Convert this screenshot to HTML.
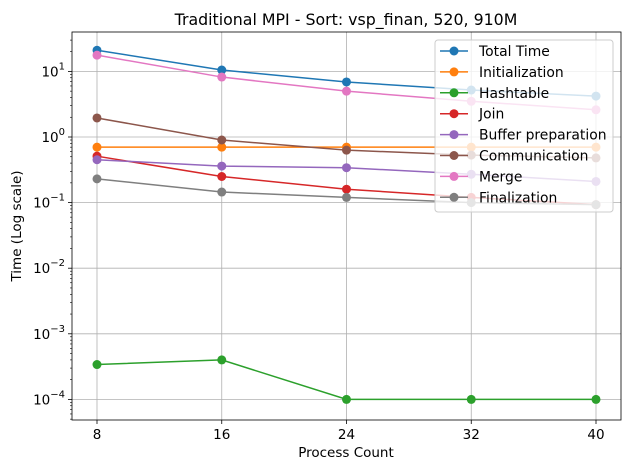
<!DOCTYPE html>
<html><head><meta charset="utf-8"><style>
body{margin:0;background:#fff;}
svg text{font-family:"DejaVu Sans","Liberation Sans",sans-serif;fill:#000;}
</style></head><body>
<svg id="c" width="630" height="470" xmlns="http://www.w3.org/2000/svg"></svg>
<script>
const categories=[8,16,24,32,40];
const seriesNames=["Total Time","Initialization","Hashtable","Join","Buffer preparation","Communication","Merge","Finalization"];
const colors=["#1f77b4","#ff7f0e","#2ca02c","#d62728","#9467bd","#8c564b","#e377c2","#7f7f7f"];
const totalTime=[21,10.5,6.9,5.2,4.2];
const initialization=[0.7,0.7,0.7,0.7,0.7];
const hashtable=[0.00034,0.0004,0.0001,0.0001,0.0001];
const join=[0.51,0.25,0.16,0.12,0.093];
const bufferPrep=[0.45,0.36,0.34,0.27,0.21];
const communication=[1.95,0.9,0.63,0.53,0.48];
const merge=[17.7,8.2,5.0,3.5,2.6];
const finalization=[0.23,0.145,0.12,0.1,0.093];
const yTicks=[-4,-3,-2,-1,0,1];
const allSeries=[totalTime,initialization,hashtable,join,bufferPrep,communication,merge,finalization];
const L=72,R=621,T=32,B=420;
const xs=v=>97+(v-8)*(596-97)/32;
const ys=v=>137-Math.log10(v)*65.6;
const svg=document.getElementById('c');const NS="http://www.w3.org/2000/svg";
function el(t,a,p){const e=document.createElementNS(NS,t);for(const k in a)e.setAttribute(k,a[k]);(p||svg).appendChild(e);return e;}
categories.forEach(c=>{el('line',{x1:xs(c),x2:xs(c),y1:T,y2:B,stroke:'#b0b0b0','stroke-width':0.8});});
yTicks.forEach(p=>{el('line',{x1:L,x2:R,y1:ys(Math.pow(10,p)),y2:ys(Math.pow(10,p)),stroke:'#b0b0b0','stroke-width':0.8});});
for(let p=-5;p<=1;p++)for(let m=2;m<=9;m++){const y=ys(m*Math.pow(10,p));if(y>T&&y<B)el('line',{x1:L-2,x2:L,y1:y,y2:y,stroke:'#000','stroke-width':0.6});}
allSeries.forEach((s,i)=>{
 const g=el('g',{});
 
 
 el('polyline',{points:s.map((v,j)=>xs(categories[j])+','+ys(v)).join(' '),fill:'none',stroke:colors[i],'stroke-width':1.5},g);
 s.forEach((v,j)=>{const c=el('circle',{cx:xs(categories[j]),cy:ys(v),r:4.5,fill:colors[i]},g);
 
 });
});
el('rect',{x:L,y:T,width:R-L,height:B-T,fill:'none',stroke:'#000','stroke-width':0.8});
categories.forEach(c=>{el('line',{x1:xs(c),x2:xs(c),y1:B,y2:B+4,stroke:'#000','stroke-width':0.8});
 const t=el('text',{x:xs(c),y:B+19,'text-anchor':'middle','font-size':13.5});t.textContent=c;
 
 });
yTicks.forEach(p=>{const y=ys(Math.pow(10,p));el('line',{x1:L-4,x2:L,y1:y,y2:y,stroke:'#000','stroke-width':0.8});
 const t=el('text',{x:L-7,y:y+5,'text-anchor':'end','font-size':13.5});
 t.innerHTML='10<tspan dy="-7" font-size="10">'+(p<0?'−'+(-p):p)+'</tspan>';
 
 });
let t=el('text',{x:346,y:25,'text-anchor':'middle','font-size':15.8});t.textContent='Traditional MPI - Sort: vsp_finan, 520, 910M';


t=el('text',{x:346,y:457,'text-anchor':'middle','font-size':13.5});t.textContent='Process Count';


t=el('text',{x:21,y:226,'text-anchor':'middle','font-size':13.5,transform:'rotate(-90 21 226)'});t.textContent='Time (Log scale)';


const lg=el('g',{});


el('rect',{x:435,y:40,width:178,height:172,rx:3,fill:'#fff','fill-opacity':0.8,stroke:'#ccc'},lg);
seriesNames.forEach((n,i)=>{const y=51+i*20.9;
 const e=el('g',{},lg);
 
 
 el('line',{x1:440,x2:468,y1:y,y2:y,stroke:colors[i],'stroke-width':1.5},e);
 el('circle',{cx:454,cy:y,r:4.5,fill:colors[i]},e);
 const tt=el('text',{x:479,y:y+5,'font-size':13.9},e);tt.textContent=n;});
</script>
</body></html>
